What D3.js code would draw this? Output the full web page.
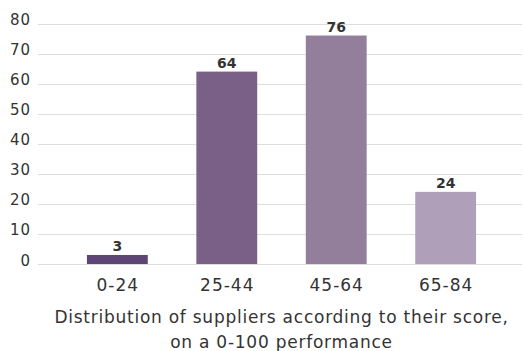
<!DOCTYPE html>
<html>
<head>
<meta charset="utf-8">
<script src="https://cdn.jsdelivr.net/npm/d3@7"></script>
<style>
  html, body { margin: 0; padding: 0; background: #fff; }
  svg { display: block; font-family: "DejaVu Sans", sans-serif; }
</style>
</head>
<body>
<svg id="chart" width="524" height="351"></svg>
<script>
// Supplier score distribution
const categories = ["0-24", "25-44", "45-64", "65-84"];
const counts = [3, 64, 76, 24];
const barColors = ["#5f4575", "#7a6087", "#937e9c", "#b09fb8"];
const yTicks = [0, 10, 20, 30, 40, 50, 60, 70, 80];
const titleLines = ["Distribution of suppliers according to their score,", "on a 0-100 performance"];

const svg = d3.select("#chart");
const plotLeft = 38, plotRight = 525, plotTop = 23.5, plotBottom = 264;

const x = d3.scaleBand().domain(categories).range([plotLeft, plotRight])
  .paddingInner(0.444).paddingOuter(0.447);
const y = d3.scaleLinear().domain([0, 80]).range([plotBottom, plotTop]);

// Horizontal gridlines
svg.append("g").selectAll("line").data(yTicks).join("line")
  .attr("x1", plotLeft).attr("x2", 522)
  .attr("y1", d => Math.round(y(d)) + 0.5).attr("y2", d => Math.round(y(d)) + 0.5)
  .attr("stroke", "#dedede").attr("stroke-width", 1);

// Y tick labels
svg.append("g").selectAll("text").data(yTicks).join("text")
  .attr("x", 31).attr("y", d => y(d) + 1.5)
  .attr("text-anchor", "end")
  .attr("font-size", 15).attr("letter-spacing", 1).attr("fill", "#333")
  .text(d => d);

// Bars
svg.append("g").selectAll("rect").data(counts).join("rect")
  .attr("x", (d, i) => x(categories[i]))
  .attr("width", x.bandwidth())
  .attr("y", d => y(d))
  .attr("height", d => y(0) - y(d))
  .attr("fill", (d, i) => barColors[i]);

// Value labels
svg.append("g").selectAll("text").data(counts).join("text")
  .attr("x", (d, i) => x(categories[i]) + x.bandwidth() / 2)
  .attr("y", d => y(d) - 4)
  .attr("text-anchor", "middle")
  .attr("font-size", 14).attr("font-weight", "bold").attr("fill", "#333")
  .text(d => d);

// Category labels
svg.append("g").selectAll("text").data(categories).join("text")
  .attr("x", d => x(d) + x.bandwidth() / 2 + 0.5)
  .attr("y", 291)
  .attr("text-anchor", "middle")
  .attr("font-size", 17).attr("letter-spacing", 1).attr("fill", "#333")
  .text(d => d);

// Axis title
svg.append("g").selectAll("text").data(titleLines).join("text")
  .attr("x", (plotLeft + plotRight) / 2)
  .attr("y", (d, i) => 323 + i * 24.5)
  .attr("text-anchor", "middle")
  .attr("font-size", 17).attr("letter-spacing", 0.75).attr("fill", "#333")
  .text(d => d);
</script>
</body>
</html>
